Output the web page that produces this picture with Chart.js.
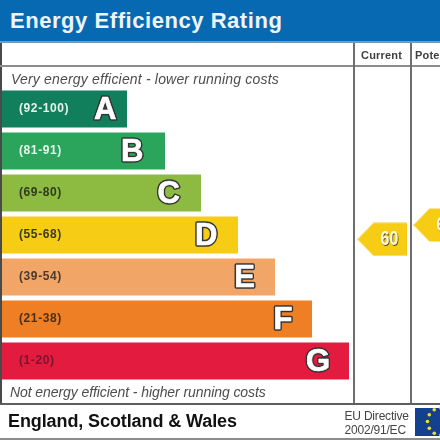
<!DOCTYPE html>
<html>
<head>
<meta charset="utf-8">
<script src="https://cdn.jsdelivr.net/npm/chart.js@4"></script>
<style>
html,body{margin:0;padding:0;background:#fff;overflow:hidden}
#stage{position:relative;width:440px;height:440px;overflow:hidden;font-family:"Liberation Sans",Arial,sans-serif;filter:blur(.45px)}
canvas{position:absolute;left:0;top:0}
.t{position:absolute;white-space:nowrap;line-height:1}
.ln{position:absolute;background:#6e6e6e}
</style>
</head>
<body>
<div id="stage">
  <div class="ln" style="left:0;top:0;width:440px;height:41px;background:#0869b3"></div>
  <div class="ln" style="left:0;top:41px;width:440px;height:2px;background:#7d97ab"></div>
  <div class="ln" style="left:0;top:43px;width:2px;height:360px;background:#4a4a4a"></div>
  <div class="ln" style="left:0;top:65px;width:440px;height:2px;background:#8c8c8c"></div>
  <div class="ln" style="left:353px;top:43px;width:2px;height:360px"></div>
  <div class="ln" style="left:410px;top:43px;width:2px;height:360px"></div>
  <div class="ln" style="left:0;top:403px;width:440px;height:1.5px;background:#5e5e5e"></div>
  <div class="ln" style="left:0;top:438px;width:440px;height:1.5px;background:#8c8c8c"></div>
  <div class="t" style="left:10px;top:9.5px;font-size:22px;font-weight:bold;letter-spacing:.55px;color:#eef5fa">Energy Efficiency Rating</div>
  <div class="t" style="left:361px;top:49.5px;font-size:11px;font-weight:bold;letter-spacing:.2px;color:#3f3f3f">Current</div>
  <div class="t" style="left:415px;top:49.5px;font-size:11px;font-weight:bold;letter-spacing:.2px;color:#3f3f3f">Potential</div>
  <div class="t" style="left:11px;top:71.5px;font-size:14px;font-style:italic;letter-spacing:.18px;color:#4d4d4d">Very energy efficient - lower running costs</div>
  <div class="t" style="left:10px;top:385px;font-size:14px;font-style:italic;letter-spacing:-.08px;color:#4d4d4d">Not energy efficient - higher running costs</div>
  <div class="t" style="left:8px;top:411.5px;font-size:18px;font-weight:bold;letter-spacing:-.1px;color:#111">England, Scotland &amp; Wales</div>
  <div class="t" style="left:344.5px;top:410px;font-size:12px;letter-spacing:-.2px;color:#444">EU Directive</div>
  <div class="t" style="left:344.5px;top:423.5px;font-size:12px;letter-spacing:-.2px;color:#444">2002/91/EC</div>
  <canvas id="c" width="440" height="440"></canvas>
</div>
<script>
const categories = ['A','B','C','D','E','F','G'];
const bandRanges = ['(92-100)','(81-91)','(69-80)','(55-68)','(39-54)','(21-38)','(1-20)'];
const bandHigh = [100,91,80,68,54,38,20];
const bandLow = [92,81,69,55,39,21,1];
const barLengths = [125,163,199,236,273,310,347];
const barColors = ['#127f5c','#2ba55b','#8dbb41','#f6cd14','#f1a667','#ee7f25','#e31b3f'];
const rangeColors = ['#e6f2ec','#e8f5ec','#2f3a20','#3a3a20','#4a3a30','#4a2e18','#7a1530'];
const ratingColumns = ['Current','Potential'];
const ratingValues = [60,65];

const barFill = 37/42;
function bandPosition(score){
  const i = bandHigh.findIndex((h,k)=>score<=h && score>=bandLow[k]);
  return i + ((bandHigh[i]-score)/(bandHigh[i]-bandLow[i]) - 0.5)*barFill;
}
function arrowImage(){
  const w=50,h=34,cv=document.createElement('canvas');
  cv.width=w;cv.height=h;
  const g=cv.getContext('2d');
  g.fillStyle='#f6cd14';
  g.beginPath();g.moveTo(0,h/2);g.lineTo(16,.5);g.lineTo(w,.5);g.lineTo(w,h-.5);g.lineTo(16,h-.5);g.closePath();g.fill();
  return cv;
}
const labelsPlugin={
  id:'labels',
  afterDatasetsDraw(chart){
    const {ctx}=chart, bars=chart.getDatasetMeta(0).data, pts=chart.getDatasetMeta(1).data;
    ctx.save();
    ctx.textBaseline='middle';
    bars.forEach((b,i)=>{
      ctx.textAlign='left';
      ctx.font='bold 12px "Liberation Sans"';
      ctx.letterSpacing='.6px';
      ctx.fillStyle=rangeColors[i];
      ctx.fillText(bandRanges[i],19,b.y);
      ctx.letterSpacing='0px';
      ctx.textAlign='right';
      ctx.font='bold 31px "Liberation Sans"';
      ctx.lineJoin='round';
      ctx.lineWidth=3.6;
      ctx.strokeStyle='#333';
      const gap=i===0?10.5:22-i*.5;
      ctx.strokeText(categories[i],b.x-gap,b.y+1.5);
      ctx.lineWidth=.7;
      ctx.strokeStyle='#fff';
      ctx.strokeText(categories[i],b.x-gap,b.y+1.5);
      ctx.fillStyle='#fff';
      ctx.fillText(categories[i],b.x-gap,b.y+1.5);
    });
    pts.forEach((p,i)=>{
      ctx.save();
      ctx.textAlign='left';
      ctx.font='bold 16px "Liberation Sans"';
      ctx.translate(p.x-2,p.y+.5);
      ctx.scale(1,1.22);
      ctx.fillStyle='#5a4a10';
      ctx.fillText(ratingValues[i],.8,.7);
      ctx.fillStyle='#fffbe8';
      ctx.fillText(ratingValues[i],0,0);
      ctx.restore();
    });
    // EU flag
    const fx=415,fy=408,fw=25,fh=28,cx=441,cy=421.5,r=13.5;
    ctx.fillStyle='#13408f';
    ctx.fillRect(fx,fy,fw,fh);
    ctx.fillStyle='#f7dc2a';
    for(let k=0;k<12;k++){
      const a=k*Math.PI/6;
      ctx.beginPath();ctx.arc(cx+r*Math.cos(a),cy+r*Math.sin(a),1.8,0,Math.PI*2);ctx.fill();
    }
    ctx.restore();
  }
};
new Chart(document.getElementById('c'),{
  data:{
    labels:categories,
    datasets:[
      {type:'bar',data:barLengths,backgroundColor:barColors,borderWidth:0,grouped:false,categoryPercentage:1,barPercentage:barFill,xAxisID:'x',yAxisID:'y'},
      {type:'scatter',data:ratingColumns.map((c,i)=>({x:i,y:bandPosition(ratingValues[i])})),pointStyle:arrowImage(),pointRadius:17,xAxisID:'xCol',yAxisID:'yBand',clip:false}
    ]
  },
  options:{
    indexAxis:'y',
    responsive:false,
    animation:false,
    events:[],
    layout:{autoPadding:false,padding:{left:2,top:88,bottom:58,right:0}},
    plugins:{legend:{display:false},title:{display:false},tooltip:{enabled:false}},
    scales:{
      x:{type:'linear',display:false,min:0,max:438},
      y:{type:'category',display:false,offset:true},
      xCol:{type:'linear',display:false,min:-6.795,max:1.027},
      yBand:{type:'linear',display:false,min:-0.5,max:6.5,reverse:true}
    }
  },
  plugins:[labelsPlugin]
});
</script>
</body>
</html>
